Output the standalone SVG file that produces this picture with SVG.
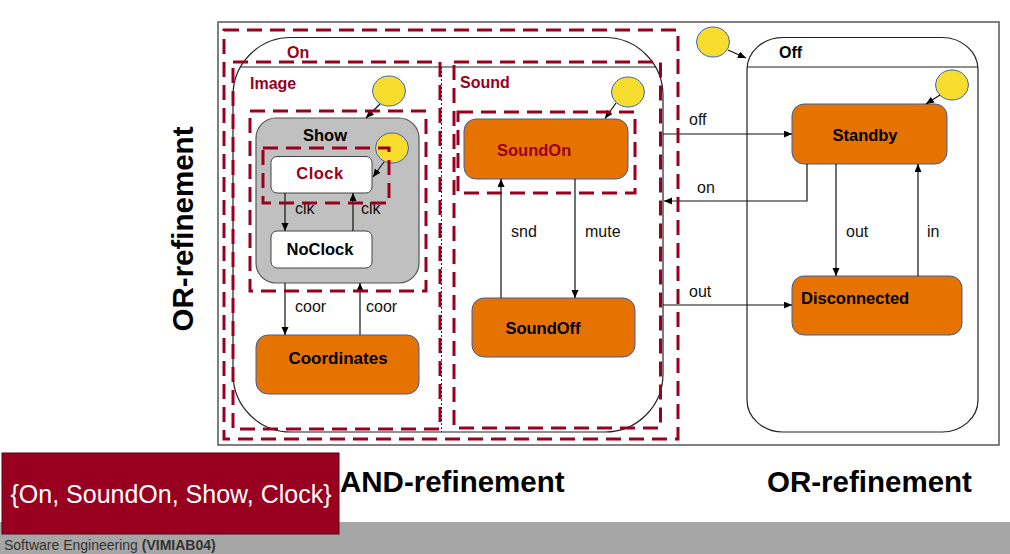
<svg xmlns="http://www.w3.org/2000/svg" width="1010" height="554" viewBox="0 0 1010 554">
<defs>
<marker id="ah" markerWidth="9" markerHeight="8" refX="8" refY="3.5" orient="auto" markerUnits="userSpaceOnUse"><path d="M0,0 L8,3.5 L0,7 z" fill="#000"/></marker>
<style>
.st{fill:#fff;stroke:#222;stroke-width:1.2}
.or{fill:#e67300;stroke:#3a5ea8;stroke-width:1}
.wh{fill:#fff;stroke:#444;stroke-width:1}
.yc{fill:#f8dc2e;stroke:#3a64b8;stroke-width:1}
.dr{fill:none;stroke:#990020;stroke-width:3;stroke-dasharray:15 8}
.e{fill:none;stroke:#111;stroke-width:1.2;marker-end:url(#ah)}
.t{font-family:"Liberation Sans",Arial,sans-serif}
.b{font-weight:bold}
.lbl{font-family:"Liberation Sans",Arial,sans-serif;font-size:16px;fill:#111}
.red{fill:#990020}
.big{font-family:"Liberation Sans",Arial,sans-serif;font-size:29.5px;font-weight:bold;fill:#000}
</style>
</defs>
<rect width="1010" height="554" fill="#fff"/>
<!-- outer frame -->
<rect x="218" y="22" width="781" height="423" fill="#fff" stroke="#555" stroke-width="1.5"/>

<!-- On state -->
<g id="On">
<rect x="233" y="37.5" width="430" height="394.5" rx="58" ry="58" class="st"/>
<line x1="240" y1="67" x2="656" y2="67" stroke="#222" stroke-width="1.2"/>
<line x1="441.5" y1="67" x2="441.5" y2="432" stroke="#222" stroke-width="1" stroke-dasharray="2 2"/>
<text x="287" y="58" class="t b red" font-size="16">On</text>
<text x="250" y="89" class="t b red" font-size="16">Image</text>
<text x="460" y="88" class="t b red" font-size="16">Sound</text>
</g>

<!-- Off state -->
<g id="Off">
<rect x="747" y="37.5" width="231" height="394.5" rx="36" ry="32" class="st"/>
<line x1="747" y1="67" x2="978" y2="67" stroke="#222" stroke-width="1.2"/>
<text x="779" y="58" class="t b" font-size="16">Off</text>
</g>

<g id="Show">
<rect x="256" y="118" width="163" height="165" rx="20" ry="20" fill="#c0c0c0" stroke="#555" stroke-width="1.2"/>
<text x="325" y="141" text-anchor="middle" class="t b" font-size="16.5">Show</text>
</g>

<g id="Clock">
<rect x="271" y="156.5" width="101" height="36.5" rx="6" class="wh"/>
<text x="320" y="179" text-anchor="middle" class="t b red" font-size="16.5" letter-spacing="0.5">Clock</text>
</g>

<g id="NoClock">
<rect x="271" y="231" width="101" height="37" rx="6" class="wh"/>
<text x="320" y="255" text-anchor="middle" class="t b" font-size="16.5">NoClock</text>
</g>

<g id="Coordinates">
<rect x="256" y="335" width="163" height="59" rx="12" class="or"/>
<text x="338" y="364" text-anchor="middle" class="t b" font-size="17">Coordinates</text>
</g>

<g id="SoundOn">
<rect x="464" y="119" width="164" height="60" rx="12" class="or"/>
<text x="497" y="156" class="t b red" font-size="16.5">SoundOn</text>
</g>

<g id="SoundOff">
<rect x="472" y="298" width="163" height="59" rx="12" class="or"/>
<text x="543" y="334" text-anchor="middle" class="t b" font-size="16.5">SoundOff</text>
</g>

<g id="Standby">
<rect x="792" y="104" width="155" height="60" rx="12" class="or"/>
<text x="865" y="141" text-anchor="middle" class="t b" font-size="16.5">Standby</text>
</g>

<g id="Disconnected">
<rect x="792" y="276" width="170" height="59" rx="12" class="or"/>
<text x="801" y="304" class="t b" font-size="16.5">Disconnected</text>
</g>

<!-- initial pseudostates -->
<g id="init-on-off"><ellipse cx="713" cy="42" rx="16.5" ry="15" class="yc"/></g>
<g id="init-image"><ellipse cx="389" cy="91" rx="16.5" ry="15" class="yc"/></g>
<g id="init-show"><ellipse cx="392" cy="148" rx="16.5" ry="15" class="yc"/></g>
<g id="init-sound"><ellipse cx="628" cy="92" rx="16.5" ry="15" class="yc"/></g>
<g id="init-off"><ellipse cx="952" cy="85" rx="16.5" ry="15" class="yc"/></g>

<!-- connectors -->
<g id="connectors">
<path d="M728,50 L746,58" class="e"/>
<path d="M380,104 L366,118" class="e"/>
<path d="M384,162 L373,177" class="e"/>
<path d="M616,103 L605,118.5" class="e"/>
<path d="M940,95 L926,104" class="e"/>
<path d="M285,193 L285,231" class="e"/>
<path d="M353,231 L353,193" class="e"/>
<path d="M285,283 L285,335" class="e"/>
<path d="M360,335 L360,283" class="e"/>
<path d="M501,298 L501,179" class="e"/>
<path d="M575,179 L575,298" class="e"/>
<path d="M663,134 L792,134" class="e"/>
<path d="M807,164 L807,201 L664,201" class="e"/>
<path d="M663,305 L792,305" class="e"/>
<path d="M836,164 L836,276" class="e"/>
<path d="M918,276 L918,164" class="e"/>
<text x="295" y="214" class="lbl">clk</text>
<text x="361" y="214" class="lbl">clk</text>
<text x="295" y="312" class="lbl">coor</text>
<text x="366" y="312" class="lbl">coor</text>
<text x="511" y="237" class="lbl">snd</text>
<text x="585" y="237" class="lbl">mute</text>
<text x="689" y="125" class="lbl">off</text>
<text x="697" y="193" class="lbl">on</text>
<text x="689" y="297" class="lbl">out</text>
<text x="846" y="237" class="lbl">out</text>
<text x="927" y="237" class="lbl">in</text>
</g>

<!-- dashed configuration outlines -->
<g id="config">
<rect x="224" y="30" width="454" height="409" class="dr"/>
<rect x="233" y="62" width="207" height="367" class="dr"/>
<rect x="454" y="62" width="206.5" height="366" class="dr"/>
<rect x="250" y="111" width="176" height="180" class="dr"/>
<rect x="263" y="148" width="126" height="55" class="dr"/>
<rect x="458" y="112" width="177" height="81" class="dr"/>
</g>

<!-- annotations -->
<text class="big" transform="translate(193,229) rotate(-90)" text-anchor="middle">OR-refinement</text>
<text x="340" y="492" class="big">AND-refinement</text>
<text x="767" y="492" class="big">OR-refinement</text>

<rect x="0" y="522" width="1010" height="32" fill="#a6a6a6"/>
<text x="4" y="550" class="t" font-size="14" fill="#333">Software Engineering <tspan font-weight="bold">(VIMIAB04)</tspan></text>

<g id="config-label">
<rect x="2" y="453" width="337" height="81" fill="#990020" stroke="#5a0010" stroke-width="1"/>
<text x="171" y="503" text-anchor="middle" class="t" font-size="25" fill="#fff">{On, SoundOn, Show, Clock}</text>
</g>
</svg>
